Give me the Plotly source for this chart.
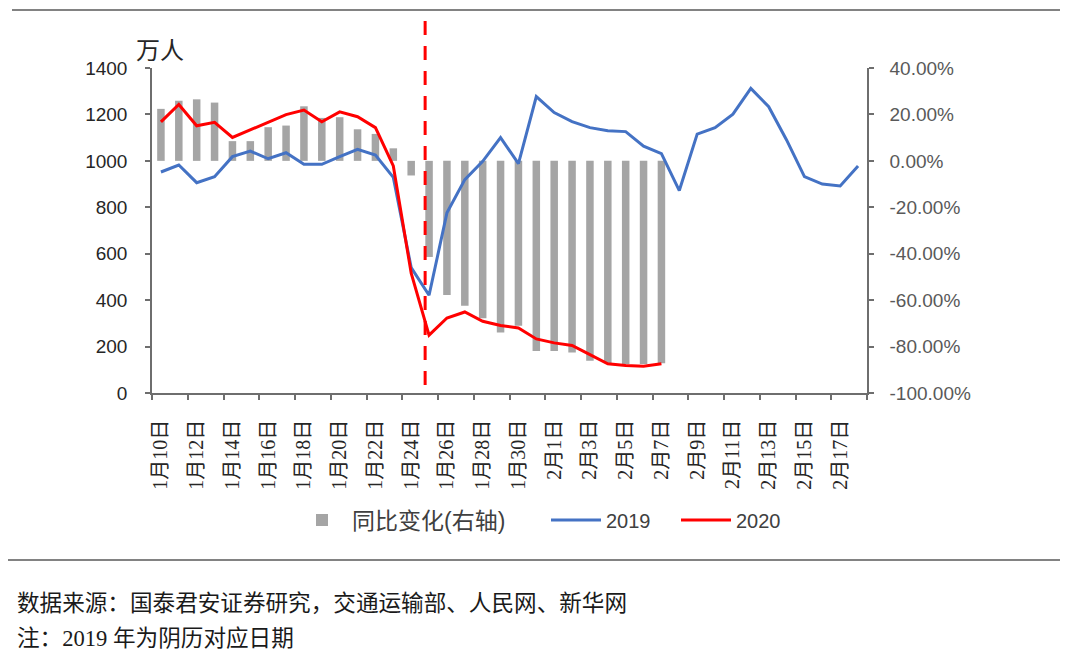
import plotly.graph_objects as go

# ---------------- data ----------------
dates = ([f"1月{d}日" for d in range(10, 32)] +
         [f"2月{d}日" for d in range(1, 19)])

y2019 = [952, 982, 906, 932, 1018, 1042, 1009, 1035, 985, 985,
         1018, 1050, 1025, 929, 540, 421, 776, 919, 998, 1100,
         988, 1277, 1208, 1169, 1143, 1130, 1126, 1063, 1031, 872,
         1115, 1143, 1201, 1312, 1233, 1090, 932, 900, 892, 978]

y2020 = [1168, 1243, 1151, 1166, 1101, 1133, 1164, 1199, 1219, 1168,
         1211, 1190, 1143, 978, 516, 249, 323, 349, 309, 291,
         280, 233, 216, 205, 165, 126, 119, 115, 126]

yoy = [0.224, 0.259, 0.265, 0.251, 0.085, 0.085, 0.145, 0.152, 0.235, 0.185,
       0.188, 0.136, 0.116, 0.054, -0.063, -0.414, -0.578, -0.624, -0.678, -0.739,
       -0.710, -0.819, -0.819, -0.825, -0.861, -0.872, -0.875, -0.875, -0.872]

tick_labels = dates[::2]
left_ticks = [0, 200, 400, 600, 800, 1000, 1200, 1400]
right_ticks = [-1.0, -0.8, -0.6, -0.4, -0.2, 0.0, 0.2, 0.4]
right_tick_text = [f"{v * 100:.2f}%" for v in right_ticks]
boundary_ticks = [-0.5 + 2 * k for k in range(21)]
marker_day = "1月25日"

# ---------------- layout helpers (screen pixels -> paper) ----------------
OFF = 8                      # page body margin
W, H = 1080 - OFF, 663 - OFF
L, T = 152 - OFF, 68 - OFF
R, B = W - (867 - OFF), H - (393 - OFF)
PW, PH = W - L - R, H - T - B


def px(x):
    return (x - OFF - L) / PW


def py(y):
    return (H - B - (y - OFF)) / PH


def cx(x):
    return (x - OFF) / W


def cy(y):
    return 1 - (y - OFF) / H


AX = "#6e6e6e"
SERIF_CJK = "Liberation Serif, Noto Sans CJK SC"
SANS = "Liberation Sans, Noto Sans CJK SC"

fig = go.Figure()

fig.add_trace(go.Bar(
    x=dates[:len(yoy)], y=yoy, name="同比变化(右轴)",
    marker=dict(color="#a5a5a5", line=dict(width=0)),
    width=0.42, yaxis="y", xaxis="x", legend="legend",
))
fig.add_trace(go.Scatter(
    x=dates, y=y2019, name="2019", mode="lines",
    line=dict(color="#4472c4", width=3), yaxis="y2", xaxis="x", legend="legend2",
))
fig.add_trace(go.Scatter(
    x=dates[:len(y2020)], y=y2020, name="2020", mode="lines",
    line=dict(color="#ff0000", width=3), yaxis="y2", xaxis="x", legend="legend3",
))
# carrier for the boundary tick axis
fig.add_trace(go.Scatter(
    x=[], y=[], xaxis="x2", yaxis="y2", showlegend=False, hoverinfo="skip",
))

marker_idx = dates.index(marker_day)


def leg(xs, size):
    return dict(orientation="h", xref="container", yref="container",
                x=cx(xs), y=cy(520), xanchor="left", yanchor="middle",
                font=dict(family=SANS, size=size, color="#404040"),
                itemwidth=50, bgcolor="rgba(0,0,0,0)")


fig.update_layout(
    width=W, height=H,
    margin=dict(l=L, r=R, t=T, b=B, autoexpand=False),
    paper_bgcolor="white", plot_bgcolor="white",
    barmode="overlay",
    xaxis=dict(
        type="category", categoryorder="array", categoryarray=dates,
        range=[-0.5, len(dates) - 0.5],
        tickmode="array", tickvals=tick_labels, ticktext=tick_labels,
        tickangle=-90, ticks="", showline=True, linecolor=AX, linewidth=1.5,
        showgrid=False, zeroline=False,
        tickfont=dict(family=SERIF_CJK, size=20, color="#262626"),
        ticklabelstandoff=17,
    ),
    xaxis2=dict(
        overlaying="x", anchor="y", type="linear",
        range=[-0.5, len(dates) - 0.5],
        tickmode="array", tickvals=boundary_ticks,
        ticks="outside", ticklen=6, tickwidth=1.5, tickcolor=AX,
        showticklabels=False, showline=False, showgrid=False, zeroline=False,
    ),
    yaxis=dict(
        side="right", range=[-1.0, 0.4], tickmode="array", tickvals=right_ticks,
        ticktext=right_tick_text, ticks="outside", ticklen=5, tickwidth=1.5,
        tickcolor=AX, showline=True, linecolor=AX, linewidth=1.5,
        showgrid=False, zeroline=False,
        tickfont=dict(family=SANS, size=19, color="#595959"),
        ticklabelstandoff=12,
    ),
    yaxis2=dict(
        side="left", overlaying="y", range=[0, 1400], tickmode="array",
        tickvals=left_ticks, ticks="outside", ticklen=5, tickwidth=1.5, tickcolor=AX,
        showline=True, linecolor=AX, linewidth=1.5, showgrid=False, zeroline=False,
        tickfont=dict(family=SANS, size=19, color="#262626"),
        ticklabelstandoff=14,
    ),
    legend=leg(292, 23),
    legend2=leg(546, 20),
    legend3=leg(676, 20),
    showlegend=True,
)

# dashed marker line at 1月25日
fig.add_shape(type="line", xref="x", yref="paper",
              x0=marker_idx - 0.22, x1=marker_idx - 0.22,
              y0=py(385), y1=py(16),
              line=dict(color="#ff0000", width=3, dash="14px,11px"))

# frame lines
fig.add_shape(type="line", xref="paper", yref="paper",
              x0=px(12), x1=px(1060), y0=py(10), y1=py(10),
              line=dict(color="#595959", width=1.5))
fig.add_shape(type="line", xref="paper", yref="paper",
              x0=px(8), x1=px(1060), y0=py(560), y1=py(560),
              line=dict(color="#595959", width=1.5))

# unit label
fig.add_annotation(text="万人", xref="paper", yref="paper",
                   x=px(134), y=py(48), xanchor="left", yanchor="middle",
                   showarrow=False,
                   font=dict(family="Noto Sans CJK SC", size=24, color="#262626"))

# source notes
fig.add_annotation(text="数据来源：国泰君安证券研究，交通运输部、人民网、新华网",
                   xref="paper", yref="paper", x=px(15), y=py(603),
                   xanchor="left", yanchor="middle", showarrow=False,
                   font=dict(family=SERIF_CJK, size=22.6, color="#1a1a1a"))
fig.add_annotation(text="注：2019 年为阴历对应日期",
                   xref="paper", yref="paper", x=px(15), y=py(638),
                   xanchor="left", yanchor="middle", showarrow=False,
                   font=dict(family=SERIF_CJK, size=22.6, color="#1a1a1a"))

fig.write_html("out.html")
